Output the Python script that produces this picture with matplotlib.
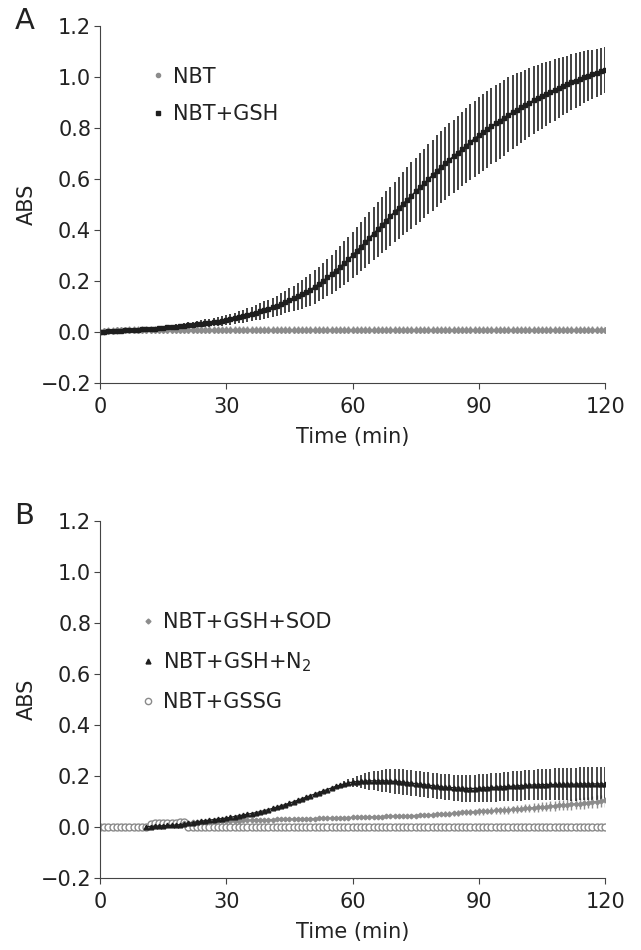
import numpy as np
import matplotlib.pyplot as plt
from matplotlib.lines import Line2D
from matplotlib.ticker import FuncFormatter

# ---- data (1 min steps) ----
t = np.arange(0, 121)

nbt = [0.000, 0.002, 0.004, 0.005, 0.006, 0.007, 0.007, 0.008, 0.008, 0.008,
       0.008, 0.008, 0.008, 0.008, 0.008, 0.008, 0.008, 0.008, 0.008, 0.008,
       0.008, 0.008, 0.008, 0.008, 0.008, 0.008, 0.008, 0.008, 0.008, 0.008,
       0.008, 0.008, 0.008, 0.008, 0.008, 0.008, 0.008, 0.008, 0.008, 0.008,
       0.008, 0.008, 0.008, 0.008, 0.008, 0.008, 0.008, 0.008, 0.008, 0.008,
       0.008, 0.008, 0.008, 0.008, 0.008, 0.008, 0.008, 0.008, 0.008, 0.008,
       0.008, 0.008, 0.008, 0.008, 0.008, 0.008, 0.008, 0.008, 0.008, 0.008,
       0.008, 0.008, 0.008, 0.008, 0.008, 0.008, 0.008, 0.008, 0.008, 0.008,
       0.008, 0.008, 0.008, 0.008, 0.008, 0.008, 0.008, 0.008, 0.008, 0.008,
       0.008, 0.008, 0.008, 0.008, 0.008, 0.008, 0.008, 0.008, 0.008, 0.008,
       0.008, 0.008, 0.008, 0.008, 0.008, 0.008, 0.008, 0.008, 0.008, 0.008,
       0.008, 0.008, 0.008, 0.008, 0.008, 0.008, 0.008, 0.008, 0.008, 0.008,
       0.008]
nbt_err = [0.002] + [0.013] * 120

gsh = [0.000, 0.001, 0.002, 0.003, 0.004, 0.005, 0.006, 0.007, 0.008, 0.009,
       0.010, 0.011, 0.012, 0.013, 0.014, 0.015, 0.017, 0.018, 0.020, 0.022,
       0.024, 0.026, 0.028, 0.030, 0.032, 0.034, 0.036, 0.038, 0.040, 0.042,
       0.045, 0.049, 0.053, 0.057, 0.061, 0.065, 0.070, 0.075, 0.080, 0.085,
       0.090, 0.096, 0.102, 0.109, 0.116, 0.123, 0.131, 0.139, 0.147, 0.156,
       0.165, 0.176, 0.188, 0.200, 0.213, 0.226, 0.240, 0.254, 0.269, 0.284,
       0.300, 0.317, 0.334, 0.351, 0.368, 0.385, 0.402, 0.419, 0.436, 0.453,
       0.470, 0.486, 0.502, 0.518, 0.534, 0.550, 0.566, 0.582, 0.598, 0.614,
       0.630, 0.645, 0.660, 0.674, 0.688, 0.702, 0.716, 0.730, 0.744, 0.757,
       0.770, 0.782, 0.794, 0.806, 0.817, 0.828, 0.839, 0.850, 0.860, 0.870,
       0.880, 0.889, 0.898, 0.907, 0.916, 0.924, 0.932, 0.940, 0.948, 0.956,
       0.964, 0.971, 0.978, 0.985, 0.991, 0.997, 1.003, 1.009, 1.015, 1.021,
       1.027]
gsh_err = [0.000, 0.001, 0.001, 0.002, 0.002, 0.003, 0.003, 0.004, 0.004, 0.005,
           0.005, 0.006, 0.006, 0.007, 0.007, 0.008, 0.008, 0.009, 0.010, 0.010,
           0.011, 0.012, 0.012, 0.013, 0.014, 0.015, 0.016, 0.017, 0.018, 0.019,
           0.020, 0.021, 0.022, 0.024, 0.025, 0.027, 0.028, 0.030, 0.032, 0.034,
           0.036, 0.038, 0.040, 0.042, 0.044, 0.047, 0.050, 0.053, 0.056, 0.059,
           0.062, 0.065, 0.068, 0.071, 0.074, 0.077, 0.080, 0.083, 0.086, 0.088,
           0.090, 0.093, 0.096, 0.099, 0.102, 0.105, 0.108, 0.111, 0.114, 0.116,
           0.118, 0.121, 0.124, 0.127, 0.130, 0.132, 0.134, 0.136, 0.138, 0.139,
           0.140, 0.141, 0.142, 0.143, 0.144, 0.145, 0.146, 0.147, 0.148, 0.149,
           0.150, 0.150, 0.150, 0.150, 0.150, 0.149, 0.148, 0.147, 0.145, 0.143,
           0.140, 0.138, 0.136, 0.133, 0.130, 0.128, 0.125, 0.122, 0.120, 0.117,
           0.114, 0.112, 0.110, 0.107, 0.105, 0.102, 0.100, 0.097, 0.095, 0.092,
           0.090]

# panel B
t_sod = np.arange(20, 121)
sod = [0.015, 0.016, 0.017, 0.018, 0.019, 0.020, 0.020, 0.021, 0.021, 0.022,
       0.023, 0.023, 0.024, 0.024, 0.025, 0.025, 0.026, 0.026, 0.027, 0.027,
       0.028, 0.028, 0.029, 0.029, 0.030, 0.030, 0.030, 0.031, 0.031, 0.032,
       0.032, 0.032, 0.033, 0.033, 0.034, 0.034, 0.035, 0.035, 0.036, 0.036,
       0.037, 0.037, 0.038, 0.038, 0.039, 0.039, 0.040, 0.040, 0.041, 0.041,
       0.042, 0.042, 0.043, 0.043, 0.044, 0.044, 0.045, 0.046, 0.047, 0.048,
       0.049, 0.050, 0.051, 0.052, 0.053, 0.054, 0.056, 0.057, 0.058, 0.059,
       0.060, 0.061, 0.062, 0.063, 0.064, 0.065, 0.066, 0.067, 0.068, 0.069,
       0.071, 0.072, 0.073, 0.075, 0.076, 0.078, 0.079, 0.081, 0.082, 0.084,
       0.085, 0.087, 0.088, 0.090, 0.091, 0.093, 0.095, 0.097, 0.099, 0.101,
       0.104]
sod_err = [0.003, 0.003, 0.003, 0.003, 0.003, 0.003, 0.003, 0.003, 0.003, 0.003,
           0.004, 0.004, 0.004, 0.004, 0.004, 0.004, 0.004, 0.004, 0.004, 0.004,
           0.004, 0.004, 0.004, 0.004, 0.005, 0.005, 0.005, 0.005, 0.005, 0.005,
           0.005, 0.005, 0.005, 0.005, 0.005, 0.005, 0.005, 0.005, 0.005, 0.005,
           0.006, 0.006, 0.006, 0.006, 0.006, 0.007, 0.007, 0.007, 0.007, 0.007,
           0.007, 0.007, 0.008, 0.008, 0.008, 0.008, 0.008, 0.008, 0.008, 0.008,
           0.009, 0.009, 0.010, 0.010, 0.010, 0.011, 0.011, 0.012, 0.012, 0.012,
           0.013, 0.013, 0.013, 0.014, 0.014, 0.014, 0.014, 0.015, 0.015, 0.015,
           0.015, 0.016, 0.016, 0.017, 0.017, 0.018, 0.018, 0.019, 0.019, 0.020,
           0.020, 0.021, 0.021, 0.022, 0.022, 0.023, 0.023, 0.024, 0.024, 0.025,
           0.025]

t_n2 = np.arange(11, 121)
n2 = [0.000, 0.001, 0.002, 0.003, 0.004, 0.005, 0.006, 0.007, 0.008,
      0.010, 0.013, 0.016, 0.019, 0.022, 0.024, 0.026, 0.028, 0.030, 0.032,
      0.034, 0.037, 0.040, 0.043, 0.046, 0.049, 0.052, 0.055, 0.059, 0.063,
      0.067, 0.072, 0.077, 0.082, 0.087, 0.092, 0.098, 0.104, 0.110, 0.116,
      0.122, 0.128, 0.134, 0.140, 0.146, 0.152, 0.158, 0.163, 0.168, 0.172,
      0.175, 0.177, 0.178, 0.179, 0.180, 0.180, 0.180, 0.180, 0.180, 0.179,
      0.178, 0.177, 0.175, 0.173, 0.171, 0.169, 0.167, 0.165, 0.163, 0.161,
      0.159, 0.157, 0.155, 0.154, 0.153, 0.152, 0.151, 0.150, 0.150, 0.150,
      0.151, 0.152, 0.153, 0.154, 0.155, 0.156, 0.157, 0.158, 0.159, 0.160,
      0.161, 0.162, 0.163, 0.164, 0.164, 0.165, 0.165, 0.166, 0.166, 0.166,
      0.167, 0.167, 0.167, 0.167, 0.168, 0.168, 0.168, 0.168, 0.168, 0.168,
      0.168]
n2_err = [0.0] * 45 + [
    0.003, 0.006, 0.010, 0.014, 0.018, 0.022, 0.026, 0.030, 0.034, 0.037,
    0.040, 0.043, 0.045, 0.047, 0.048, 0.049, 0.050, 0.050, 0.050, 0.050,
    0.050, 0.050, 0.050, 0.050, 0.050, 0.050, 0.051, 0.051, 0.051, 0.052,
    0.052, 0.052, 0.053, 0.053, 0.054, 0.054, 0.055, 0.055, 0.056, 0.056,
    0.057, 0.057, 0.058, 0.058, 0.059, 0.059, 0.060, 0.060, 0.061, 0.061,
    0.062, 0.062, 0.063, 0.063, 0.064, 0.064, 0.065, 0.065, 0.065, 0.065,
    0.065, 0.065, 0.065, 0.065, 0.065]

gssg = [0.000] * 12 + [0.012, 0.014, 0.015, 0.015, 0.016, 0.016, 0.016, 0.017, 0.017] + [0.000] * 100

FS = 15
plt.rcParams['font.family'] = ['DejaVu Sans']
plt.rcParams['font.size'] = FS

fig = plt.figure(figsize=(6.41, 9.5), dpi=100)
axA = fig.add_axes([0.156, 0.597, 0.788, 0.376])
axB = fig.add_axes([0.156, 0.076, 0.788, 0.376])

gray = '#8c8c8c'
dark = '#1e1e1e'
txt = '#222222'

# ---- panel A ----
axA.errorbar(t, nbt, yerr=nbt_err, color=gray, ecolor=gray, elinewidth=1.0,
             marker='D', markersize=3, linewidth=1, capsize=0)
axA.errorbar(t, gsh, yerr=gsh_err, color=dark, ecolor='#333333', elinewidth=1.3,
             marker='s', markersize=3.2, linewidth=1, capsize=0)

hA = [Line2D([], [], ls='none', marker='o', ms=3, color=gray),
      Line2D([], [], ls='none', marker='s', ms=3.5, color=dark)]
axA.legend(hA, ['NBT', 'NBT+GSH'], loc='upper left', bbox_to_anchor=(0.107, 0.885),
           frameon=False, borderpad=0, borderaxespad=0, handlelength=0.4,
           handletextpad=0.5, labelspacing=0.82, fontsize=FS, labelcolor=txt)

# ---- panel B ----
axB.errorbar(t_sod, sod, yerr=sod_err, color=gray, ecolor=gray, elinewidth=1.0,
             marker='D', markersize=2.4, linewidth=1, capsize=0)
axB.errorbar(t_n2, n2, yerr=n2_err, color=dark, ecolor='#2a2a2a', elinewidth=1.2,
             marker='^', markersize=3.4, linewidth=1, capsize=0)
axB.plot(t, gssg, ls='none', marker='o', markersize=5, markerfacecolor='white',
         markeredgecolor='#8a8a8a', markeredgewidth=1.0)

hB = [Line2D([], [], ls='none', marker='D', ms=2.5, color=gray),
      Line2D([], [], ls='none', marker='^', ms=3.5, color=dark),
      Line2D([], [], ls='none', marker='o', ms=4.5, markerfacecolor='white',
             markeredgecolor='#8a8a8a')]
axB.legend(hB, ['NBT+GSH+SOD', 'NBT+GSH+N$_2$', 'NBT+GSSG'], loc='upper left',
           bbox_to_anchor=(0.087, 0.743), frameon=False, borderpad=0,
           borderaxespad=0, handlelength=0.4, handletextpad=0.5,
           labelspacing=0.87, fontsize=FS, labelcolor=txt)

fmt = FuncFormatter(lambda v, pos: f'{v:.1f}'.replace('-', '\u2212'))

for ax, letter in ((axA, 'A'), (axB, 'B')):
    ax.set_xlim(0, 120)
    ax.set_ylim(-0.2, 1.2)
    ax.set_xticks([0, 30, 60, 90, 120])
    ax.set_yticks(np.arange(-0.2, 1.21, 0.2))
    ax.yaxis.set_major_formatter(fmt)
    ax.spines['top'].set_visible(False)
    ax.spines['right'].set_visible(False)
    ax.spines['left'].set_color('#444444')
    ax.spines['bottom'].set_color('#444444')
    ax.tick_params(direction='out', length=4.3, pad=2, color='#444444',
                   labelcolor=txt, labelsize=FS)
    ax.tick_params(axis='x', pad=6)
    ax.set_xlabel('Time (min)', fontsize=FS, color=txt, labelpad=7)
    ax.set_ylabel('ABS', fontsize=FS, color=txt, labelpad=3)
    ax.text(-0.15, 1.012, letter, transform=ax.transAxes, fontsize=21,
            color=txt, va='center', ha='center')

fig.savefig('out.png', dpi=100)
